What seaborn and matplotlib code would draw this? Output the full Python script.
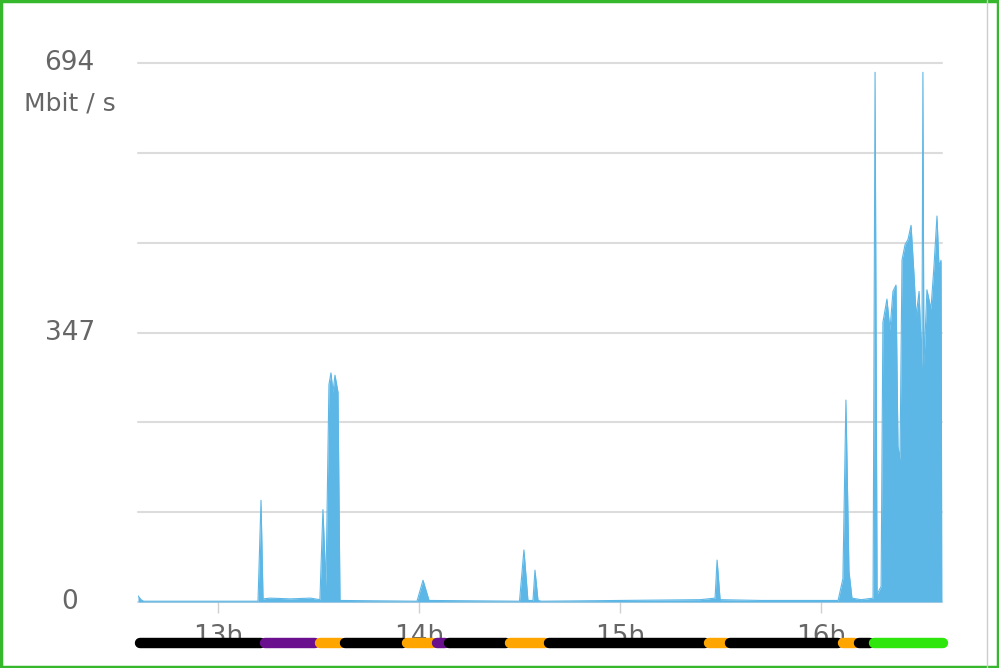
import matplotlib
matplotlib.use("Agg")
import matplotlib.pyplot as plt
import matplotlib.transforms as mtransforms
from matplotlib.patches import Rectangle
import seaborn as sns

# traffic samples, time in hours of day, throughput in Mbit/s
hours = [12.602, 12.617, 12.63, 13.199, 13.214, 13.224, 13.26, 13.36, 13.46,
         13.507, 13.522, 13.537, 13.552, 13.562, 13.572, 13.582, 13.597, 13.607,
         13.99, 14.020, 14.050, 14.50, 14.522, 14.542, 14.567, 14.577, 14.592,
         14.61, 15.40, 15.473, 15.483, 15.498, 15.70, 16.085, 16.109, 16.124,
         16.139, 16.154, 16.20, 16.259, 16.269, 16.279, 16.299, 16.308, 16.328,
         16.343, 16.358, 16.373, 16.383, 16.393, 16.403, 16.418, 16.433, 16.448,
         16.463, 16.473, 16.488, 16.502, 16.507, 16.512, 16.527, 16.547, 16.562,
         16.577, 16.587, 16.597, 16.602]
mbits = [8, 3, 1, 1, 131, 4, 5, 4, 5,
         3, 119, 20, 280, 295, 270, 292, 270, 2,
         1, 28, 2, 1, 67, 2, 2, 41, 2,
         1, 3, 5, 54, 3, 2, 2, 30, 260,
         40, 5, 3, 5, 682, 10, 20, 360, 390,
         350, 400, 408, 200, 183, 440, 460, 467, 485,
         420, 368, 400, 300, 682, 305, 402, 377, 432,
         497, 432, 440, 0]

tick_hours = [13, 14, 15, 16]
tick_labels = ["13h", "14h", "15h", "16h"]
y_labels = {0: "0", 347: "347", 694: "694"}
y_max = 694

# state bar under the chart: (start hour, end hour, colour)
bar_starts = [12.602, 13.224, 13.493, 13.622, 13.930, 14.080, 14.139, 14.443,
              14.637, 15.433, 15.537, 16.095, 16.179, 16.254]
bar_ends = [13.224, 13.493, 13.622, 13.930, 14.080, 14.139, 14.443, 14.637,
            15.433, 15.537, 16.095, 16.179, 16.254, 16.617]
bar_colors = ["black", "#6a0f8e", "orange", "black", "orange", "#6a0f8e", "black",
              "orange", "black", "orange", "black", "orange", "black", "#2ee60c"]

sns.set_style("white")
fig = plt.figure(figsize=(9.99, 6.68), dpi=100)
ax = fig.add_axes([138 / 999, 66 / 668, 804 / 999, 539 / 668])

fill_col = "#5db7e6"
ax.fill_between(hours, mbits, 0, color=fill_col, lw=0)
sns.lineplot(x=hours, y=mbits, ax=ax, color=fill_col, lw=0.8, estimator=None, sort=False)

# gridlines every sixth of the max
for i in range(7):
    ax.axhline(y_max * i / 6, color="#dcdcdc", lw=1.5, zorder=0, clip_on=False)

ax.set_xlim(12.602, 16.602)
ax.set_ylim(0, y_max)
for s in ax.spines.values():
    s.set_visible(False)

ax.set_xticks(tick_hours)
ax.set_xticklabels(tick_labels, fontsize=19, color="#666666")
ax.tick_params(axis="x", length=8, width=1, color="#d0d0d0", pad=8, bottom=True)
ax.set_yticks([])

ytrans = mtransforms.blended_transform_factory(ax.transAxes, ax.transData)
for v, t in y_labels.items():
    ax.text(-0.085, v, t, transform=ytrans, ha="center", va="center",
            fontsize=19, color="#666666")
ax.text(-0.085, 694 - 52, "Mbit / s", transform=ytrans, ha="center", va="center",
        fontsize=18, color="#666666")

# state bar
trans = mtransforms.blended_transform_factory(ax.transData, ax.transAxes)
for x0, x1, c in zip(bar_starts, bar_ends, bar_colors):
    ax.plot([x0 + 0.012, x1 - 0.012], [-0.076, -0.076], color=c, lw=7.5,
            solid_capstyle="round", transform=trans, clip_on=False, zorder=5)

# screenshot frame
fig.add_artist(plt.Line2D([987 / 999, 987 / 999], [0, 1], color="#cccccc", lw=1))
fig.patches.append(Rectangle((0.0015, 0.002), 0.997, 0.996, transform=fig.transFigure,
                             fill=False, edgecolor="#36b82c", lw=2.5))

fig.savefig("out.png", dpi=100)
